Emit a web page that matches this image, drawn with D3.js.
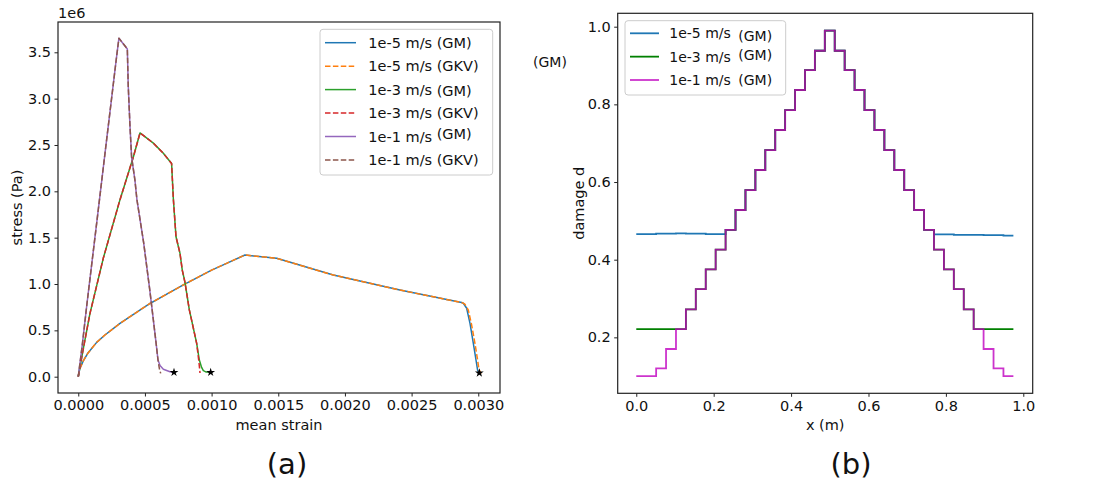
<!DOCTYPE html>
<html><head><meta charset="utf-8">
<script src="https://cdn.jsdelivr.net/npm/d3@7"></script>
<style>body{margin:0;background:#fff} text{font-family:"DejaVu Sans",sans-serif;fill:#111}</style>
</head><body>
<svg id="c" width="1107" height="486"></svg>
<script>
// ---------- panel (a) data: mean strain vs stress (stress in 1e6 Pa) ----------
const strainTicks = [0, 0.0005, 0.0010, 0.0015, 0.0020, 0.0025, 0.0030];
const stressTicks = [0, 0.5, 1.0, 1.5, 2.0, 2.5, 3.0, 3.5];

const v1e5GM_strain = [0, 0.00001, 0.0000375, 0.00007, 0.000138, 0.0002, 0.000313, 0.0004, 0.000538, 0.00065, 0.000788, 0.0009, 0.001, 0.0011, 0.00125, 0.001488, 0.0019125, 0.0024125, 0.002875, 0.002888, 0.002913, 0.002938, 0.002963, 0.002983, 0.002995, 0.003008];
const v1e5GM_stress = [0, 0.08, 0.17, 0.25, 0.37, 0.45, 0.575, 0.66, 0.79, 0.88, 0.99, 1.075, 1.15, 1.215, 1.313, 1.277, 1.097, 0.935, 0.80, 0.792, 0.738, 0.576, 0.36, 0.18, 0.07, 0.04];
const v1e5GKV_strain = [0, 0.00001, 0.0000375, 0.00007, 0.000138, 0.0002, 0.000313, 0.0004, 0.000538, 0.00065, 0.000788, 0.0009, 0.001, 0.0011, 0.00125, 0.001488, 0.0019125, 0.0024125, 0.002875, 0.002898, 0.002925, 0.00295, 0.002975, 0.002995, 0.003005, 0.00302];
const v1e5GKV_stress = [0, 0.08, 0.17, 0.25, 0.37, 0.45, 0.575, 0.66, 0.79, 0.88, 0.99, 1.075, 1.15, 1.215, 1.313, 1.277, 1.097, 0.935, 0.80, 0.785, 0.72, 0.56, 0.36, 0.18, 0.08, 0.03];

const v1e3GM_strain = [0, 0.0000375, 0.0000875, 0.000188, 0.000313, 0.000413, 0.000463, 0.000563, 0.000638, 0.0007, 0.000713, 0.000733, 0.000763, 0.00078, 0.0008, 0.000833, 0.00085, 0.000888, 0.000908, 0.000925, 0.000938, 0.00096, 0.000993];
const v1e3GM_stress = [0, 0.30, 0.68, 1.28, 1.91, 2.37, 2.63, 2.52, 2.41, 2.30, 1.92, 1.51, 1.33, 1.15, 1.02, 0.72, 0.61, 0.36, 0.18, 0.10, 0.065, 0.05, 0.047];
const v1e3GKV_strain = [0, 0.0000375, 0.0000875, 0.000188, 0.000313, 0.000413, 0.000463, 0.000563, 0.000638, 0.0007, 0.000713, 0.000733, 0.000763, 0.00078, 0.0008, 0.000833, 0.00085, 0.000888, 0.000905, 0.000913];
const v1e3GKV_stress = [0, 0.30, 0.68, 1.28, 1.91, 2.37, 2.63, 2.52, 2.41, 2.30, 1.92, 1.51, 1.33, 1.15, 1.02, 0.72, 0.61, 0.36, 0.16, 0.04];

const v1e1GM_strain = [0, 0.00003, 0.000063, 0.000145, 0.000188, 0.000238, 0.000288, 0.000305, 0.000368, 0.000375, 0.000388, 0.0004, 0.000425, 0.00044, 0.00049, 0.000535, 0.00056, 0.000583, 0.000598, 0.000613, 0.000638, 0.000688, 0.000718];
const v1e1GM_stress = [0, 0.34, 0.76, 1.74, 2.26, 2.86, 3.46, 3.652, 3.536, 3.13, 2.70, 2.37, 2.12, 1.91, 1.45, 0.95, 0.65, 0.37, 0.18, 0.12, 0.08, 0.054, 0.047];
const v1e1GKV_strain = [0, 0.00003, 0.000063, 0.000145, 0.000188, 0.000238, 0.000288, 0.000305, 0.000368, 0.000375, 0.000388, 0.0004, 0.000425, 0.00044, 0.00049, 0.000535, 0.00056, 0.000583, 0.000598, 0.000608, 0.000618];
const v1e1GKV_stress = [0, 0.34, 0.76, 1.74, 2.26, 2.86, 3.46, 3.652, 3.536, 3.13, 2.70, 2.37, 2.12, 1.91, 1.45, 0.95, 0.65, 0.37, 0.18, 0.09, 0.036];

const legendA = ["1e-5 m/s|(GM)", "1e-5 m/s|(GKV)", "1e-3 m/s|(GM)", "1e-3 m/s|(GKV)", "1e-1 m/s|(GM)", "1e-1 m/s|(GKV)"];

// ---------- panel (b) data: damage along bar ----------
const xTicksB = [0, 0.2, 0.4, 0.6, 0.8, 1.0];
const yTicksB = [0.2, 0.4, 0.6, 0.8, 1.0];
const xNodes = [0, 0.0256, 0.0513, 0.0769, 0.1026, 0.1282, 0.1538, 0.1795, 0.2051, 0.2308, 0.2564, 0.2821, 0.3077, 0.3333, 0.3590, 0.3846, 0.4103, 0.4359, 0.4615, 0.4872, 0.5128, 0.5385, 0.5641, 0.5897, 0.6154, 0.6410, 0.6667, 0.6923, 0.7179, 0.7436, 0.7692, 0.7949, 0.8205, 0.8462, 0.8718, 0.8974, 0.9231, 0.9487, 0.9744];
const damage1e5 = [0.466, 0.466, 0.467, 0.467, 0.468, 0.467, 0.467, 0.466, 0.466, 0.477, 0.528, 0.579, 0.631, 0.682, 0.734, 0.785, 0.837, 0.888, 0.938, 0.990, 0.938, 0.888, 0.837, 0.785, 0.734, 0.682, 0.631, 0.579, 0.528, 0.477, 0.465, 0.465, 0.464, 0.464, 0.464, 0.463, 0.463, 0.462, 0.462];
const damage1e3 = [0.221, 0.221, 0.221, 0.221, 0.221, 0.272, 0.324, 0.375, 0.426, 0.477, 0.528, 0.579, 0.631, 0.682, 0.734, 0.785, 0.837, 0.888, 0.938, 0.990, 0.938, 0.888, 0.837, 0.785, 0.734, 0.682, 0.631, 0.579, 0.528, 0.477, 0.426, 0.375, 0.324, 0.272, 0.221, 0.221, 0.221, 0.221, 0.221];
const damage1e1 = [0.100, 0.100, 0.120, 0.170, 0.221, 0.272, 0.324, 0.375, 0.426, 0.477, 0.528, 0.579, 0.631, 0.682, 0.734, 0.785, 0.837, 0.888, 0.938, 0.990, 0.938, 0.888, 0.837, 0.785, 0.734, 0.682, 0.631, 0.579, 0.528, 0.477, 0.426, 0.375, 0.324, 0.272, 0.221, 0.170, 0.120, 0.100, 0.100];
const legendB = ["1e-5 m/s|(GM)", "1e-3 m/s|(GM)", "1e-1 m/s|(GM)"];

// ---------- drawing ----------
const svg = d3.select("#c");
const FS = 14.5;    // tick + axis label size
const LFSA = 14.5;  // legend (a) size
const LFSB = 14;    // legend (b) size

function frame(g, x0, x1, y0, y1) {
  g.append("rect").attr("x", x0).attr("y", y0).attr("width", x1 - x0).attr("height", y1 - y0)
    .attr("fill", "none").attr("stroke", "#222").attr("stroke-width", 1.2);
}
function styleAxis(sel) {
  sel.select(".domain").remove();
  sel.selectAll(".tick line").attr("stroke", "#222").attr("stroke-width", 1);
  sel.selectAll(".tick text").attr("font-size", FS).attr("fill", "#111").style("font-family", "DejaVu Sans");
}

// Panel (a)
const ax = {l: 58, r: 500, t: 22, b: 393};
const xA = d3.scaleLinear().domain([-0.000152, 0.003163]).range([ax.l, ax.r]);
const yA = d3.scaleLinear().domain([-0.176, 3.827]).range([ax.b, ax.t]);
const gA = svg.append("g");
gA.append("g").attr("transform", `translate(0,${ax.b})`)
  .call(d3.axisBottom(xA).tickValues(strainTicks).tickFormat(d3.format(".4f")).tickSize(3.5).tickPadding(3.5))
  .call(styleAxis);
gA.append("g").attr("transform", `translate(${ax.l},0)`)
  .call(d3.axisLeft(yA).tickValues(stressTicks).tickFormat(d3.format(".1f")).tickSize(3.5).tickPadding(3.5))
  .call(styleAxis);

const seriesA = [
  {sx: v1e5GM_strain, sy: v1e5GM_stress, c: "#1f77b4", dash: null, star: true},
  {sx: v1e5GKV_strain, sy: v1e5GKV_stress, c: "#ff7f0e", dash: "5.5,2.4"},
  {sx: v1e3GM_strain, sy: v1e3GM_stress, c: "#2ca02c", dash: null, star: true},
  {sx: v1e3GKV_strain, sy: v1e3GKV_stress, c: "#d62728", dash: "5.5,2.4"},
  {sx: v1e1GM_strain, sy: v1e1GM_stress, c: "#9467bd", dash: null, star: true},
  {sx: v1e1GKV_strain, sy: v1e1GKV_stress, c: "#8c564b", dash: "5.5,2.4"}
];
const lineA = d3.line().x(d => xA(d[0])).y(d => yA(d[1]));
seriesA.forEach(s => {
  gA.append("path").attr("d", lineA(d3.zip(s.sx, s.sy)))
    .attr("fill", "none").attr("stroke", s.c).attr("stroke-width", 1.5)
    .attr("stroke-dasharray", s.dash).attr("stroke-linejoin", "round");
});
seriesA.filter(s => s.star).forEach(s => {
  const n = s.sx.length - 1;
  gA.append("path").attr("d", d3.symbol(d3.symbolStar, 24)())
    .attr("transform", `translate(${xA(s.sx[n])},${yA(s.sy[n])})`).attr("fill", "#000");
});
frame(gA, ax.l, ax.r, ax.t, ax.b);
gA.append("text").attr("x", ax.l).attr("y", 18).attr("font-size", FS).text("1e6");
gA.append("text").attr("transform", `translate(22,${(ax.t + ax.b) / 2}) rotate(-90)`)
  .attr("text-anchor", "middle").attr("font-size", FS).text("stress (Pa)");
gA.append("text").attr("x", (ax.l + ax.r) / 2).attr("y", 430).attr("text-anchor", "middle")
  .attr("font-size", FS).text("mean strain");
gA.append("text").attr("x", 287).attr("y", 474).attr("text-anchor", "middle")
  .attr("font-size", 29).text("(a)");

// legend (a)
const legA = gA.append("g");
legA.append("rect").attr("x", 320).attr("y", 29.3).attr("width", 172.7).attr("height", 145.7)
  .attr("rx", 3).attr("fill", "#fff").attr("fill-opacity", 0.8).attr("stroke", "#ccc").attr("stroke-width", 1);
const modelDyA = [0, 0, 1.5, 0, -3, 0];
legendA.forEach((lab, i) => {
  const yy = 42.7 + i * 23.45;
  const s = seriesA[i];
  legA.append("line").attr("x1", 325).attr("x2", 356).attr("y1", yy).attr("y2", yy)
    .attr("stroke", s.c).attr("stroke-width", 1.5).attr("stroke-dasharray", s.dash);
  const [sp, md] = lab.split("|");
  const t = legA.append("text").attr("x", 368.3).attr("y", yy + 5.2).attr("font-size", LFSA);
  t.append("tspan").text(sp + " ");
  t.append("tspan").attr("dy", modelDyA[i]).text(md);
});

// Panel (b)
const bx = {l: 617.7, r: 1032.7, t: 13.3, b: 393.3};
const xB = d3.scaleLinear().domain([-0.048, 1.0243]).range([bx.l, bx.r]);
const yB = d3.scaleLinear().domain([0.0559, 1.0345]).range([bx.b, bx.t]);
const gB = svg.append("g");
gB.append("g").attr("transform", `translate(0,${bx.b})`)
  .call(d3.axisBottom(xB).tickValues(xTicksB).tickFormat(d3.format(".1f")).tickSize(3.5).tickPadding(3.5))
  .call(styleAxis);
gB.append("g").attr("transform", `translate(${bx.l},0)`)
  .call(d3.axisLeft(yB).tickValues(yTicksB).tickFormat(d3.format(".1f")).tickSize(3.5).tickPadding(3.5))
  .call(styleAxis);

const seriesB = [
  {d: damage1e5, c: "#1f77b4", o: 1},
  {d: damage1e3, c: "#008000", o: 1},
  {d: damage1e1, c: "#bf00bf", o: 0.8}
];
const lineB = d3.line().x(d => xB(d[0])).y(d => yB(d[1])).curve(d3.curveStepAfter);
seriesB.forEach(s => {
  gB.append("path").attr("d", lineB(d3.zip(xNodes, s.d)))
    .attr("fill", "none").attr("stroke", s.c).attr("stroke-width", 1.8).attr("stroke-opacity", s.o);
});
frame(gB, bx.l, bx.r, bx.t, bx.b);
gB.append("text").attr("transform", `translate(584,${(bx.t + bx.b) / 2}) rotate(-90)`)
  .attr("text-anchor", "middle").attr("font-size", FS).text("damage d");
gB.append("text").attr("x", (bx.l + bx.r) / 2).attr("y", 430).attr("text-anchor", "middle")
  .attr("font-size", FS).text("x (m)");
gB.append("text").attr("x", 851).attr("y", 474).attr("text-anchor", "middle")
  .attr("font-size", 29).text("(b)");
gB.append("text").attr("x", 533).attr("y", 67).attr("font-size", LFSB).text("(GM)");

// legend (b)
const legB = gB.append("g");
legB.append("rect").attr("x", 625).attr("y", 20.7).attr("width", 160.7).attr("height", 74.3)
  .attr("rx", 3).attr("fill", "#fff").attr("fill-opacity", 0.8).attr("stroke", "#ccc").attr("stroke-width", 1);
const modelDyB = [3, -1.7, 0];
legendB.forEach((lab, i) => {
  const yy = 33.3 + i * 23.35;
  legB.append("line").attr("x1", 630).attr("x2", 659).attr("y1", yy).attr("y2", yy)
    .attr("stroke", seriesB[i].c).attr("stroke-width", 1.8).attr("stroke-opacity", seriesB[i].o);
  const [sp, md] = lab.split("|");
  legB.append("text").attr("x", 669.3).attr("y", yy + 5.1).attr("font-size", LFSB).text(sp);
  legB.append("text").attr("x", 738.3).attr("y", yy + 5.1 + modelDyB[i]).attr("font-size", LFSB).text(md);
});
</script>
</body></html>
